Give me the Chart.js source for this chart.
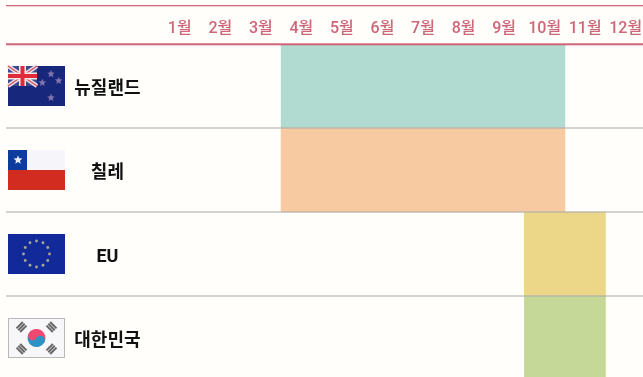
<!DOCTYPE html>
<html><head><meta charset="UTF-8"><title>수입 시기</title>
<style>
html, body { margin: 0; padding: 0; background: #fffefa; overflow: hidden; width: 643px; height: 377px; }
#wrap { position: relative; width: 646px; height: 380px; }
canvas { display: block; }
</style>
<script src="https://cdn.jsdelivr.net/npm/chart.js"></script>
</head>
<body>
<div id="wrap"><canvas id="chart" width="646" height="380"></canvas></div>
<script>
const countries = ['뉴질랜드', '칠레', 'EU', '대한민국'];
const months = ['1월','2월','3월','4월','5월','6월','7월','8월','9월','10월','11월','12월'];
const seasonStart = [3, 3, 9, 9];
const seasonEnd = [10, 10, 11, 11];
const barColors = ['#b1dbd1', '#f7caa2', '#ecd788', '#c6d897'];

const FONT = 'Roboto, "Noto Sans CJK KR", sans-serif';

function rect(ctx, x, y, w, h, c) { ctx.fillStyle = c; ctx.fillRect(x, y, w, h); }
function dot(ctx, x, y, r, c) { ctx.fillStyle = c; ctx.beginPath(); ctx.arc(x, y, r, 0, Math.PI * 2); ctx.fill(); }
function seg(ctx, x1, y1, x2, y2, w, c) {
    ctx.strokeStyle = c; ctx.lineWidth = w;
    ctx.beginPath(); ctx.moveTo(x1, y1); ctx.lineTo(x2, y2); ctx.stroke();
}
function star(ctx, x, y, r, c) {
    ctx.fillStyle = c;
    ctx.beginPath();
    for (let i = 0; i < 10; i++) {
        const a = -Math.PI / 2 + i * Math.PI / 5, q = i % 2 ? r * 0.45 : r;
        ctx.lineTo(x + Math.cos(a) * q, y + Math.sin(a) * q);
    }
    ctx.closePath();
    ctx.fill();
}

function flagNZ(ctx, x, y) {
    rect(ctx, x, y, 57, 40, '#17287c');
    const w = 29, h = 20;
    rect(ctx, x, y, w, h, '#3d4a90');
    seg(ctx, x, y, x + w, y + h, 4, '#e9e3ea');
    seg(ctx, x + w, y, x, y + h, 4, '#e9e3ea');
    seg(ctx, x, y, x + w, y + h, 1.5, '#d9505f');
    seg(ctx, x + w, y, x, y + h, 1.5, '#d9505f');
    rect(ctx, x + w / 2 - 3.5, y, 7, h, '#f2e6e8');
    rect(ctx, x, y + h / 2 - 3.5, w, 7, '#f2e6e8');
    rect(ctx, x + w / 2 - 2, y, 4, h, '#df2b3a');
    rect(ctx, x, y + h / 2 - 2, w, 4, '#df2b3a');
    star(ctx, x + 43, y + 8, 4, '#7f74ae');
    star(ctx, x + 50.7, y + 14.7, 4, '#7f74ae');
    star(ctx, x + 34.3, y + 16.7, 4, '#7f74ae');
    star(ctx, x + 43, y + 31.7, 4, '#7f74ae');
}

function flagChile(ctx, x, y) {
    rect(ctx, x, y, 57, 20, '#f6f6fa');
    rect(ctx, x, y + 20, 57, 20, '#d22b20');
    rect(ctx, x, y, 19, 20, '#0d3c9f');
    star(ctx, x + 10, y + 10, 4.6, '#e8eefa');
}

function flagEU(ctx, x, y) {
    rect(ctx, x, y, 57, 40, '#12299a');
    for (let i = 0; i < 12; i++) {
        const a = i * Math.PI / 6;
        dot(ctx, x + 28.5 + Math.cos(a) * 13, y + 20 + Math.sin(a) * 13, 1.4, '#a8a98e');
    }
}

function flagKorea(ctx, x, y) {
    rect(ctx, x, y, 57, 40, '#f7f7f9');
    ctx.strokeStyle = '#b9b9b9'; ctx.lineWidth = 1;
    ctx.strokeRect(x + 0.5, y + 0.5, 56, 39);
    const cx = x + 28.5, cy = y + 20;
    [[-15, -11], [15, -11], [-15, 11], [15, 11]].forEach(function (p) {
        const sign = p[0] * p[1] > 0 ? -1 : 1;
        ctx.save();
        ctx.translate(cx + p[0], cy + p[1]);
        ctx.rotate(sign * Math.PI / 4);
        for (let i = -1; i <= 1; i++) rect(ctx, -4.5, i * 2.6 - 1, 9, 2, '#666666');
        ctx.restore();
    });
    ctx.save();
    ctx.translate(cx, cy);
    ctx.rotate(0.5);
    ctx.fillStyle = '#f0486e'; ctx.beginPath(); ctx.arc(0, 0, 9, Math.PI, 0); ctx.fill();
    ctx.fillStyle = '#2c93c4'; ctx.beginPath(); ctx.arc(0, 0, 9, 0, Math.PI); ctx.fill();
    ctx.fillStyle = '#f0486e'; ctx.beginPath(); ctx.arc(-4.5, 0, 4.5, 0, Math.PI * 2); ctx.fill();
    ctx.fillStyle = '#2c93c4'; ctx.beginPath(); ctx.arc(4.5, 0, 4.5, 0, Math.PI * 2); ctx.fill();
    ctx.restore();
}

const flags = [flagNZ, flagChile, flagEU, flagKorea];

// rules over the bars and flags beside the country names
const tablePlugin = {
    id: 'table',
    afterDatasetsDraw(chart) {
        const ctx = chart.ctx, y = chart.scales.y, area = chart.chartArea;
        const rowH = y.getPixelForValue(1) - y.getPixelForValue(0);
        ctx.save();
        rect(ctx, 6, 5, area.right, 1.3, '#d3687b');
        countries.forEach(function (c, i) {
            const mid = y.getPixelForValue(i);
            flags[i](ctx, 8, mid - 20);
            if (i > 0) {
                rect(ctx, 6, mid - rowH / 2 - 0.8, area.right, 1.6, 'rgba(170,170,170,0.62)');
            }
        });
        rect(ctx, 6, area.top - 0.7, area.right, 2, '#d06377');
        ctx.restore();
    }
};

new Chart(document.getElementById('chart').getContext('2d'), {
    type: 'bar',
    data: {
        labels: countries,
        datasets: [{
            data: seasonStart.map(function (s, i) { return [s, seasonEnd[i]]; }),
            backgroundColor: barColors,
            borderWidth: 0,
            barPercentage: 1,
            categoryPercentage: 1
        }]
    },
    options: {
        indexAxis: 'y',
        responsive: false,
        animation: false,
        layout: { padding: 0 },
        plugins: { legend: { display: false }, tooltip: { enabled: false } },
        scales: {
            x: {
                position: 'top',
                min: 0,
                max: 12,
                grid: { display: false, drawTicks: false },
                border: { display: false },
                afterBuildTicks(scale) { scale.ticks = months.map(function (m, i) { return { value: i + 0.5 }; }); },
                afterFit(scale) { scale.height = 44; scale.paddingLeft = 0; scale.paddingRight = 0; },
                ticks: {
                    autoSkip: false,
                    maxRotation: 0,
                    padding: 5,
                    color: '#cf6579',
                    font: { family: FONT, size: 16, weight: '500' },
                    callback(value, index) { return months[index]; }
                }
            },
            y: {
                grid: { display: false, drawTicks: false },
                border: { display: false },
                afterFit(scale) { scale.width = 159.5; scale.paddingTop = 0; scale.paddingBottom = 0; },
                ticks: {
                    crossAlign: 'center',
                    padding: 19,
                    labelOffset: 3,
                    color: '#111111',
                    font: { family: FONT, size: 18, weight: '700' }
                }
            }
        }
    },
    plugins: [tablePlugin]
});
</script>
</body></html>
